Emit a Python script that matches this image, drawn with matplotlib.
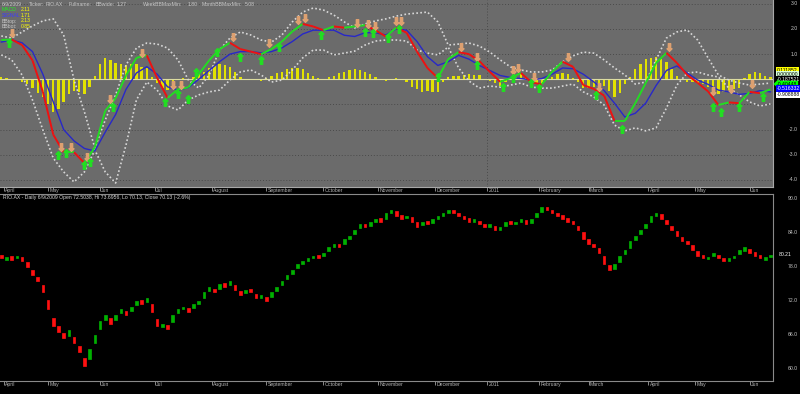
import numpy as np
import matplotlib
matplotlib.use("Agg")
import matplotlib.pyplot as plt
from matplotlib.collections import LineCollection

plt.rcParams['font.family'] = ['Liberation Sans', 'DejaVu Sans']

# trading-day index grids (lines every 4 days, bars/candles every 2 days)
t4 = np.arange(0, 297, 4)
t2 = np.arange(0, 297, 2)

macd = [1.56, 1.58, 1.36, 0.75, -0.5, -2.2, -2.9, -2.9, -3.33, -2.7,
        -1.25, -0.75, 0.15, 0.85, 0.95, 0.05, -0.74, -0.4, -0.32, 0.2,
        0.75, 1.2, 1.45, 1.2, 1.1, 1.0, 1.2, 1.5, 1.9, 2.2,
        2.1, 1.95, 2.1, 2.05, 2.1, 2.15, 1.95, 1.7, 2.05, 1.85,
        1.1, 0.45, 0.05, 0.8, 1.08, 1.0, 0.72, 0.3, -0.1, 0.05,
        0.25, -0.12, -0.2, 0.3, 0.7, 0.5, -0.23, -0.38, -0.65, -1.65,
        -1.65, -0.95, -0.15, 0.65, 1.05, 0.65, 0.17, -0.14, -0.48, -1.02,
        -0.92, -0.95, -0.5, -0.55, -0.4]
signal = [1.48, 1.56, 1.45, 1.1, 0.2, -0.9, -2.0, -2.45, -2.75, -2.85,
          -2.1, -1.4, -0.4, 0.25, 0.5, 0.2, -0.3, -0.43, -0.33, 0.0,
          0.35, 0.7, 1.0, 1.1, 1.1, 1.05, 1.1, 1.25, 1.5, 1.8,
          1.95, 1.95, 1.95, 1.75, 1.7, 1.85, 1.85, 1.76, 2.0, 1.95,
          1.5, 0.9, 0.55, 0.7, 0.95, 0.8, 0.55, 0.35, 0.15, 0.07,
          0.03, -0.03, 0.03, 0.2, 0.45, 0.42, 0.2, -0.1, -0.45, -0.95,
          -1.5, -1.35, -0.95, -0.25, 0.35, 0.53, 0.25, -0.03, -0.2, -0.43,
          -0.5, -0.6, -0.56, -0.45, -0.5]
bb_top = [1.72, 1.64, 1.88, 2.12, 2.32, 2.40, 1.76, -0.03, -1.30, -2.73,
          -1.62, -0.62, 0.57, 1.24, 1.44, 1.40, 1.24, 0.77, -0.03, -0.35,
          0.17, 1.16, 1.64, 1.88, 1.76, 1.56, 1.48, 1.76, 2.28, 2.67,
          2.83, 2.75, 2.55, 2.28, 2.04, 2.20, 2.32, 2.40, 2.51, 2.59,
          2.63, 2.67, 2.28, 1.36, 1.40, 1.44, 1.32, 1.08, 0.77, 0.49,
          0.37, 0.29, 0.29, 0.37, 0.69, 0.93, 1.08, 1.04, 0.77, 0.45,
          0.17, -0.19, -0.11, 0.77, 1.64, 1.88, 1.96, 1.56, 0.85, 0.17,
          -0.03, -0.15, -0.23, -0.19, -0.15]
bb_bot = [0.97, 0.77, 0.17, -0.82, -2.01, -3.13, -3.68, -4.08, -3.68, -2.81,
          -3.68, -4.12, -2.61, -0.82, -0.11, -0.43, -1.06, -1.22, -0.82, -0.62,
          -0.50, -0.43, -0.03, 0.29, 0.37, 0.17, -0.11, -0.03, 0.37, 0.85,
          1.16, 1.16, 0.97, 1.04, 1.12, 1.36, 1.52, 1.56, 1.56, 1.52,
          1.16, 1.04, 0.97, 1.28, 0.45, -0.07, -0.35, -0.27, -0.31, -0.23,
          -0.15, -0.31, -0.35, -0.35, -0.27, -0.19, -0.50, -0.70, -1.02, -1.82,
          -2.05, -1.93, -2.05, -1.93, -1.14, -0.23, 0.25, 0.29, 0.17, 0.09,
          -0.35, -0.62, -0.90, -1.06, -0.98]
hist = [0.08, 0.05, 0.02, -0.03, -0.09, -0.2, -0.35, -0.55, -0.7, -1.0,
        -1.3, -1.2, -0.9, -0.6, -0.45, -0.5, -0.58, -0.3, 0.15, 0.6,
        0.85, 0.75, 0.65, 0.6, 0.55, 0.6, 0.6, 0.5, 0.45, 0.1,
        -0.15, -0.35, -0.44, -0.2, 0.03, 0.05, 0.01, 0.1, 0.2, 0.3,
        0.45, 0.55, 0.6, 0.58, 0.5, 0.3, 0.1, 0.0, 0.0, -0.02,
        -0.05, 0.05, 0.15, 0.25, 0.3, 0.4, 0.45, 0.45, 0.4, 0.25,
        0.15, 0.05, 0.0, 0.08, 0.15, 0.25, 0.3, 0.35, 0.4, 0.35,
        0.3, 0.2, 0.1, 0.0, -0.06, 0.0, 0.05, 0.0, -0.1, -0.3,
        -0.4, -0.5, -0.45, -0.5, -0.5, -0.1, 0.1, 0.12, 0.13, 0.18,
        0.2, 0.18, 0.17, 0.0, -0.05, -0.15, -0.25, -0.1, -0.02, 0.1,
        0.2, 0.05, -0.09, -0.15, -0.2, 0.0, 0.1, 0.2, 0.25, 0.2,
        0.05, -0.1, -0.35, -0.35, -0.3, -0.25, -0.25, -0.45, -0.7, -0.55,
        -0.2, 0.1, 0.4, 0.6, 0.8, 0.85, 0.9, 0.8, 0.7, 0.4,
        0.15, 0.0, -0.1, -0.12, -0.15, -0.2, -0.3, -0.45, -0.6, -0.5,
        -0.42, -0.38, -0.35, 0.05, 0.2, 0.3, 0.25, 0.15, 0.11]

# sell (orange) and buy (green) signal glyphs
sell_t = [4, 23, 27, 33, 42, 54, 66, 69, 89, 103, 114, 117, 137, 141, 144, 152, 154,
          177, 183, 197, 199, 205, 218, 230, 257, 274, 281, 289]
sell_v = [1.84, -2.69, -2.69, -3.09, -0.78, 1.04, -0.23, -0.23, 1.68, 1.44, 2.35, 2.44,
          2.24, 2.2, 2.12, 2.32, 2.32, 1.28, 0.89, 0.37, 0.45, 0.09, 0.89, -0.29, 1.28,
          -0.47, -0.39, -0.19]
buy_t = [3, 22, 25, 32, 34, 43, 63, 68, 72, 75, 83, 92, 100, 107, 123, 140, 143, 149,
         153, 168, 183, 193, 197, 204, 207, 229, 239, 274, 277, 284, 293]
buy_v = [1.44, -3.01, -2.93, -3.4, -3.29, -1.1, -0.9, -0.58, -0.78, 0.29, 1.08, 0.89,
         0.77, 1.28, 1.76, 1.88, 1.84, 1.64, 2.0, 0.09, 0.57, -0.3, 0.05, -0.15, -0.35,
         -0.62, -1.98, -1.1, -1.3, -1.1, -0.7]

# price candles (every 2nd trading day)
opens = [80.1, 79.3, 79.9, 79.5, 79.7, 78.8, 77.5, 76.3, 74.8, 72.2,
         69.0, 67.5, 66.3, 65.8, 65.6, 64.0, 62.0, 61.8, 64.5, 67.0,
         68.7, 69.0, 68.6, 69.8, 70.3, 70.2, 71.3, 72.2, 71.8, 71.5,
         68.8, 67.4, 67.8, 68.3, 69.8, 70.5, 70.8, 70.7, 71.5, 72.6,
         73.8, 74.2, 74.2, 75.1, 74.9, 74.9, 73.7, 73.4, 74.1, 73.2,
         72.6, 72.7, 72.7, 73.8, 74.8, 75.8, 76.8, 77.8, 78.5, 79.0,
         79.5, 80.1, 79.9, 80.8, 81.5, 82.1, 82.0, 83.0, 83.8, 84.8,
         85.6, 85.3, 86.0, 86.6, 86.5, 87.5, 87.8, 87.1, 86.6, 86.8,
         85.9, 85.4, 86.1, 85.8, 86.5, 87.0, 87.5, 88.1, 87.6, 87.0,
         86.6, 86.0, 86.2, 85.6, 85.0, 85.3, 84.5, 85.2, 86.1, 85.5,
         86.0, 86.3, 85.7, 86.8, 87.7, 88.6, 88.1, 87.6, 87.1, 86.6,
         86.1, 85.3, 84.2, 82.9, 82.1, 81.3, 80.0, 78.3, 77.6, 78.9,
         80.3, 81.4, 82.8, 83.8, 84.8, 85.9, 87.0, 87.3, 86.3, 85.3,
         84.3, 83.3, 82.6, 81.8, 80.8, 80.1, 79.4, 79.9, 80.2, 79.5,
         79.0, 79.5, 80.3, 80.9, 81.2, 80.6, 80.1, 79.3, 79.7]
closes = [79.5, 79.8, 79.3, 80.0, 79.0, 78.0, 76.5, 75.5, 73.5, 70.5,
          67.5, 66.5, 65.5, 66.8, 64.5, 63.0, 60.5, 63.5, 66.0, 68.5,
          69.5, 68.0, 69.5, 70.5, 69.5, 71.0, 72.0, 71.5, 72.5, 70.0,
          67.5, 68.0, 67.0, 69.5, 70.5, 71.0, 70.0, 71.5, 72.0, 73.5,
          74.5, 73.5, 75.0, 74.5, 75.5, 74.0, 73.0, 74.0, 73.5, 72.5,
          73.0, 72.0, 73.5, 74.5, 75.5, 76.5, 77.5, 78.5, 79.0, 79.5,
          80.0, 79.5, 80.5, 81.5, 82.0, 81.5, 83.0, 83.5, 84.5, 85.5,
          85.0, 86.0, 86.5, 86.0, 87.5, 88.0, 87.0, 86.5, 87.0, 86.0,
          85.0, 86.0, 85.5, 86.5, 87.0, 87.5, 88.0, 87.5, 87.0, 86.5,
          86.0, 86.5, 85.5, 85.0, 85.5, 84.5, 85.0, 86.0, 85.5, 86.0,
          86.5, 85.5, 86.5, 87.5, 88.5, 88.0, 87.5, 87.0, 86.5, 86.0,
          85.5, 84.5, 83.0, 82.0, 81.5, 80.5, 78.5, 77.5, 78.5, 80.0,
          81.0, 82.5, 83.5, 84.5, 85.5, 87.0, 87.5, 86.5, 85.5, 84.5,
          83.5, 82.5, 82.0, 81.0, 80.0, 79.5, 79.8, 80.5, 79.5, 79.0,
          79.5, 80.0, 81.0, 81.5, 80.5, 80.0, 79.5, 79.8, 80.2]

month_idx = [1, 18, 38, 59, 81, 102, 124, 145, 167, 187, 207, 226, 249, 267, 288]
month_lbl = ["April", "May", "Jun", "Jul", "August", "September", "October", "November",
             "December", "2011", "February", "March", "April", "May", "Jun"]

fs = 3.7
W, H = 800, 394
fig = plt.figure(figsize=(W / 100, H / 100), dpi=100, facecolor='black')
ax1 = fig.add_axes([0, 1 - 187 / H, 773 / W, 187 / H])
ax2 = fig.add_axes([0, 1 - 381 / H, 773 / W, 187 / H])
rx = 798 / 773   # right label edge in axes fraction

# ---------------- top panel: MACD ----------------
ax1.set_facecolor('#6b6b6b')
ax1.set_xlim(-0.5, 297)
ax1.set_ylim(-4.28, 3.15)
for g in [3, 2, 1, -1, -2, -3, -4]:
    ax1.axhline(g, color='#4a4a4a', lw=0.7, ls=(0, (1, 2)), zorder=1)
ax1.axvline(month_idx[9], color='#4a4a4a', lw=0.7, ls=(0, (1, 2)), zorder=1)

ax1.bar(t2, hist, width=0.9, color='#e2e200', zorder=2)
ax1.axhline(0, color='#dcdca0', lw=0.8, zorder=2)

ax1.plot(t4, bb_top, color='#d8d8d8', lw=1.2, ls=(0, (1, 1.4)), zorder=3)
ax1.plot(t4, bb_bot, color='#d8d8d8', lw=1.2, ls=(0, (1, 1.4)), zorder=3)
ax1.plot(t4, signal, color='#2828c8', lw=1.0, zorder=4)

pts = np.column_stack([t4, macd])
segs = np.stack([pts[:-1], pts[1:]], axis=1)
cols = np.where(np.diff(macd) >= 0, '#22dd22', '#ee1111')
ax1.add_collection(LineCollection(segs, colors=cols, linewidths=1.4, zorder=5))

ax1.plot(sell_t, sell_v, ls='none', marker='$\u21e9$', ms=5.5, color='#dda070', zorder=6)
ax1.plot(buy_t, buy_v, ls='none', marker='$\u21e7$', ms=5.5, color='#22dd22', zorder=6)

ax1.set_yticks([])
ax1.set_xticks(month_idx)
ax1.tick_params(axis='x', direction='out', length=3, width=0.6, color='#a0a0a0',
                labelbottom=False)
for s in ['top', 'left']:
    ax1.spines[s].set_visible(False)
for s in ['bottom', 'right']:
    ax1.spines[s].set_color('#a8a8a8')
    ax1.spines[s].set_linewidth(0.8)

ytr = ax1.get_yaxis_transform()
for v, s in [(3, "3.0"), (2, "2.0"), (1, "1.0"), (-2, "-2.0"), (-3, "-3.0"), (-4, "-4.0")]:
    ax1.text(rx, v, s, transform=ytr, ha='right', va='center', fontsize=fs,
             color='#c8c8c8', clip_on=False)

# value boxes on the right edge
boxes = [("0.111852", 70, '#ffff00', 'black', 'square'),
         ("0.000000", 74.7, '#d8ffd8', 'black', 'square'),
         ("-0.187521", 79.3, 'black', 'white', 'square'),
         ("-0.40448", 84, '#00ff00', 'black', 'larrow'),
         ("-0.516332", 88.7, '#0000ff', 'white', 'square'),
         ("-0.908888", 95, 'white', 'black', 'square')]
for s, ypx, bg, fg, bs in boxes:
    ax1.text(777 / 773, 1 - ypx / 187, s, transform=ax1.transAxes, ha='left', va='center',
             fontsize=fs, color=fg, clip_on=False,
             bbox=dict(boxstyle=bs + ',pad=0.15', fc=bg, ec='none'))

# header line and legend
hdr = [("6/9/2009", 2), ("Ticker:", 29), ("RIO.AX", 46), ("Fullname:", 69),
       ("BBwide:", 96), ("1.27", 117), ("WeekBBMaxMin:", 143), ("1.80", 188),
       ("MonthBBMaxMin:", 202), ("5.08", 245)]
for s, xpx in hdr:
    ax1.text(xpx / 773, 1 - 4.5 / 187, s, transform=ax1.transAxes, ha='left', va='center',
             fontsize=fs, color='#c8c8c8')
leg = [("MACD", '#22ee22', "2.11", 9.5), ("SIGNAL", '#3c3cff', "1.71", 15.3),
       ("BBtop:", '#c8c8c8', "2.13", 21), ("BBbot:", '#c8c8c8', "0.85", 26.7)]
for name, c, val, ypx in leg:
    ax1.text(2 / 773, 1 - ypx / 187, name, transform=ax1.transAxes, ha='left',
             va='center', fontsize=fs, color=c)
    ax1.text(21 / 773, 1 - ypx / 187, val, transform=ax1.transAxes, ha='left',
             va='center', fontsize=fs, color='#ffff00')

# ---------------- bottom panel: price ----------------
ax2.set_facecolor('black')
ax2.set_xlim(-0.5, 297)
ax2.set_ylim(57.88, 90.88)
o = np.array(opens)
c = np.array(closes)
ccol = np.where(c >= o, '#00b000', '#ff1010')
ax2.bar(t2, c - o, bottom=o, width=1.0, color=ccol, edgecolor=ccol, linewidth=0.5)
ax2.set_yticks([])
ax2.set_xticks(month_idx)
ax2.tick_params(axis='x', direction='out', length=3, width=0.6, color='#a0a0a0',
                labelbottom=False)
ax2.spines['left'].set_visible(False)
for s in ['top', 'bottom', 'right']:
    ax2.spines[s].set_color('#8a8a8a')
    ax2.spines[s].set_linewidth(0.8)

ytr2 = ax2.get_yaxis_transform()
for v in [90, 84, 78, 72, 66, 60]:
    ax2.text(rx, v, "%.1f" % v, transform=ytr2, ha='right', va='center', fontsize=fs,
             color='#c8c8c8', clip_on=False)
ax2.text(779 / 773, closes[-1], "80.21", transform=ytr2, ha='left', va='center',
         fontsize=fs, color='white', clip_on=False)
ax2.text(3 / 773, 1 - 4 / 187,
         "RIO.AX - Daily 6/9/2009 Open 72.5038, Hi 73.6956, Lo 70.13, Close 70.13 (-2.6%)",
         transform=ax2.transAxes, ha='left', va='center', fontsize=fs, color='#d8d8d8')

# month labels under both panels
for ax in (ax1, ax2):
    xtr = ax.get_xaxis_transform()
    for m, s in zip(month_idx, month_lbl):
        ax.text(m + 0.5, -0.021, s, transform=xtr, ha='left', va='center',
                fontsize=fs, color='#b4b4b4', clip_on=False)

fig.savefig("out.png", dpi=100, facecolor='black')
